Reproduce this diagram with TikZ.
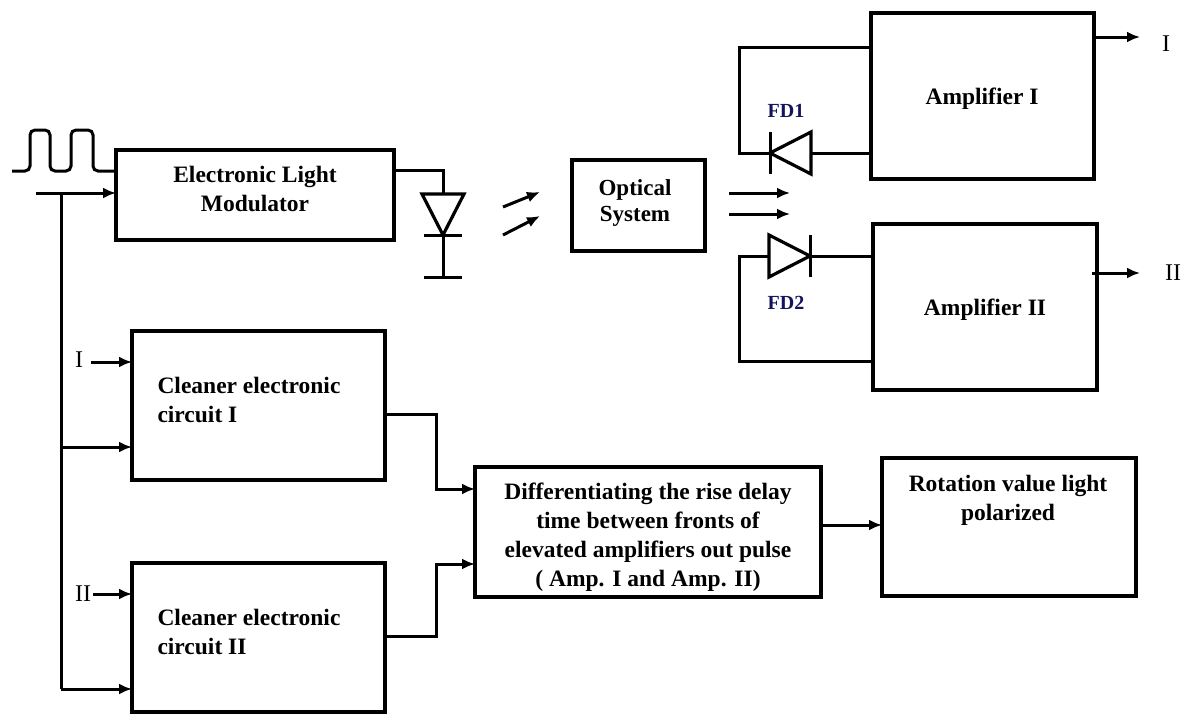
\documentclass[tikz,border=0pt]{standalone}
\usepackage{fontspec}
\setmainfont{Liberation Serif}
\usepackage{tikz}
\usetikzlibrary{arrows.meta,positioning,calc,shapes.geometric}
\definecolor{fdnavy}{HTML}{14145A}
\begin{document}
\begin{tikzpicture}[x=1pt,y=-1pt,>={Latex[length=13pt,width=11pt]},line width=3pt]
    \tikzset{box/.style={draw,line width=3.6pt,inner sep=0pt,outer sep=0pt},
      wire/.style={line width=3pt},
      txt/.style={align=center,inner sep=0pt,font=\bfseries\fontsize{23.5}{29}\selectfont},
      sig/.style={inner sep=0pt,font=\fontsize{24}{26}\selectfont},
      diode/.style={draw,isosceles triangle,isosceles triangle stretches,minimum width=42pt,minimum height=41pt,inner sep=0pt,outer sep=0pt,line width=3.2pt},
      fdlabel/.style={inner sep=0pt,text=fdnavy,font=\bfseries\fontsize{20}{24}\selectfont}}
    \useasboundingbox (0,0) rectangle (1187,716);
    % blocks
    \node[box,minimum width=278pt,minimum height=90pt] (modulator) at (255,195) {};
    \node[box,minimum width=133pt,minimum height=91pt] (optical) at (638.5,205.5) {};
    \node[box,minimum width=223pt,minimum height=166pt] (ampI) at (982.5,96) {};
    \node[box,minimum width=224pt,minimum height=166pt] (ampII) at (985,307) {};
    \node[box,minimum width=253pt,minimum height=149pt] (cleanI) at (258.5,405.5) {};
    \node[box,minimum width=253pt,minimum height=149pt] (cleanII) at (258.5,637.5) {};
    \node[box,minimum width=346pt,minimum height=130pt] (diff) at (648,532) {};
    \node[box,minimum width=254pt,minimum height=138pt] (rotation) at (1009,527) {};
    % block texts
    \node[txt] (modtext) at (255,189) {Electronic Light\\Modulator};
    \node[txt,font=\bfseries\fontsize{23}{26}\selectfont] (opttext) at (635,203) {Optical\\System};
    \node[txt] (ampItext) at (982,99) {Amplifier I};
    \node[txt] (ampIItext) at (985,310) {Amplifier II};
    \node[txt,align=left,anchor=west] (cleanItext) at (156,400) {Cleaner electronic\\circuit I};
    \node[txt,align=left,anchor=west] (cleanIItext) at (156,632) {Cleaner electronic\\circuit II};
    \node[txt] (difftext) at (648,537) {Differentiating the rise delay\\time between fronts of\\elevated amplifiers out pulse\\( Amp. I and Amp. II)};
    \node[txt] (rottext) at (1008,500) {Rotation value light\\polarized};
    % pulse and feed line
    \coordinate (pulsein) at (12,171);
    \coordinate (feedin) at (36,193);
    \coordinate (feedbus) at (61,193);
    \draw[wire,rounded corners=5pt] (pulsein) -- (30,171) -- (30,130) -- (50,130) -- (50,171) -- (71,171) -- (71,130) -- (93,130) -- (93,171) -- (modulator.west |- pulsein);
    \draw[wire,->] (feedin) -- (feedin -| modulator.west);
    \coordinate (busmid) at (61,447);
    \coordinate (busend) at (61,689);
    \draw[wire] (feedbus) -- (busend);
    \draw[wire,->] (busmid) -- (busmid -| cleanI.west);
    \draw[wire,->] (busend) -- (busend -| cleanII.west);
    \node[sig] (inI) at (79,360) {I};
    \node[sig] (inII) at (83,594) {II};
    \coordinate (inIa) at (91,362);
    \coordinate (inIIa) at (93,594);
    \draw[wire,->] (inIa) -- (inIa -| cleanI.west);
    \draw[wire,->] (inIIa) -- (inIIa -| cleanII.west);
    % light source
    \node[diode,shape border rotate=270,anchor=apex] (led) at (443,235) {};
    \coordinate (ledout) at (394,170);
    \coordinate (ledgnd) at (443,277);
    \draw[wire] (ledout) -- (ledout -| led.lower side) -- (led.lower side);
    \draw[wire] (led.apex) -- (ledgnd);
    \draw[wire] ([xshift=-19pt]led.apex) -- ([xshift=19pt]led.apex);
    \draw[wire] ([xshift=-19pt]ledgnd) -- ([xshift=19pt]ledgnd);
    \coordinate (rayAa) at (503,207);
    \coordinate (rayAb) at (540,192);
    \coordinate (rayBa) at (503,235);
    \coordinate (rayBb) at (540,216);
    \draw[wire,->] (rayAa) -- (rayAb);
    \draw[wire,->] (rayBa) -- (rayBb);
    % beams
    \coordinate (beamAa) at (729,193);
    \coordinate (beamAb) at (790,193);
    \coordinate (beamBa) at (729,214);
    \coordinate (beamBb) at (790,214);
    \draw[wire,->] (beamAa) -- (beamAb);
    \draw[wire,->] (beamBa) -- (beamBb);
    % photodiodes
    \node[diode,shape border rotate=180,anchor=apex] (fdI) at (770,153) {};
    \node[diode,anchor=apex] (fdII) at (810,256) {};
    \draw[wire] ([yshift=-21pt]fdI.apex) -- ([yshift=21pt]fdI.apex);
    \draw[wire] ([yshift=-21pt]fdII.apex) -- ([yshift=21pt]fdII.apex);
    \coordinate (loopI) at (739,47);
    \coordinate (loopII) at (739,361);
    \draw[wire] (ampI.west |- fdI.apex) -- (fdI.lower side);
    \draw[wire] (fdI.apex) -- (fdI.apex -| loopI) -- (loopI) -- (loopI -| ampI.west);
    \draw[wire] (ampII.west |- fdII.apex) -- (fdII.apex);
    \draw[wire] (fdII.lower side) -- (fdII.lower side -| loopII) -- (loopII) -- (loopII -| ampII.west);
    \node[fdlabel] (fdItext) at (786,111) {FD1};
    \node[fdlabel] (fdIItext) at (786,303) {FD2};
    % outputs
    \node[sig] (outI) at (1166,44) {I};
    \node[sig] (outII) at (1173,273) {II};
    \coordinate (outIa) at (1094,37);
    \coordinate (outIb) at (1140,37);
    \coordinate (outIIa) at (1092,273);
    \coordinate (outIIb) at (1140,273);
    \draw[wire,->] (outIa) -- (outIb);
    \draw[wire,->] (outIIa) -- (outIIb);
    % lower signal path
    \coordinate (cleanIout) at (385,414);
    \coordinate (cleanIIout) at (385,636);
    \coordinate (diffinI) at (475,489);
    \coordinate (diffinII) at (475,564);
    \draw[wire,->] (cleanIout) -- (436,414) -- (436,489) -- (diffinI);
    \draw[wire,->] (cleanIIout) -- (436,636) -- (436,564) -- (diffinII);
    \coordinate (diffout) at (821,525);
    \draw[wire,->] (diffout) -- (diffout -| rotation.west);
  \end{tikzpicture}
\end{document}
